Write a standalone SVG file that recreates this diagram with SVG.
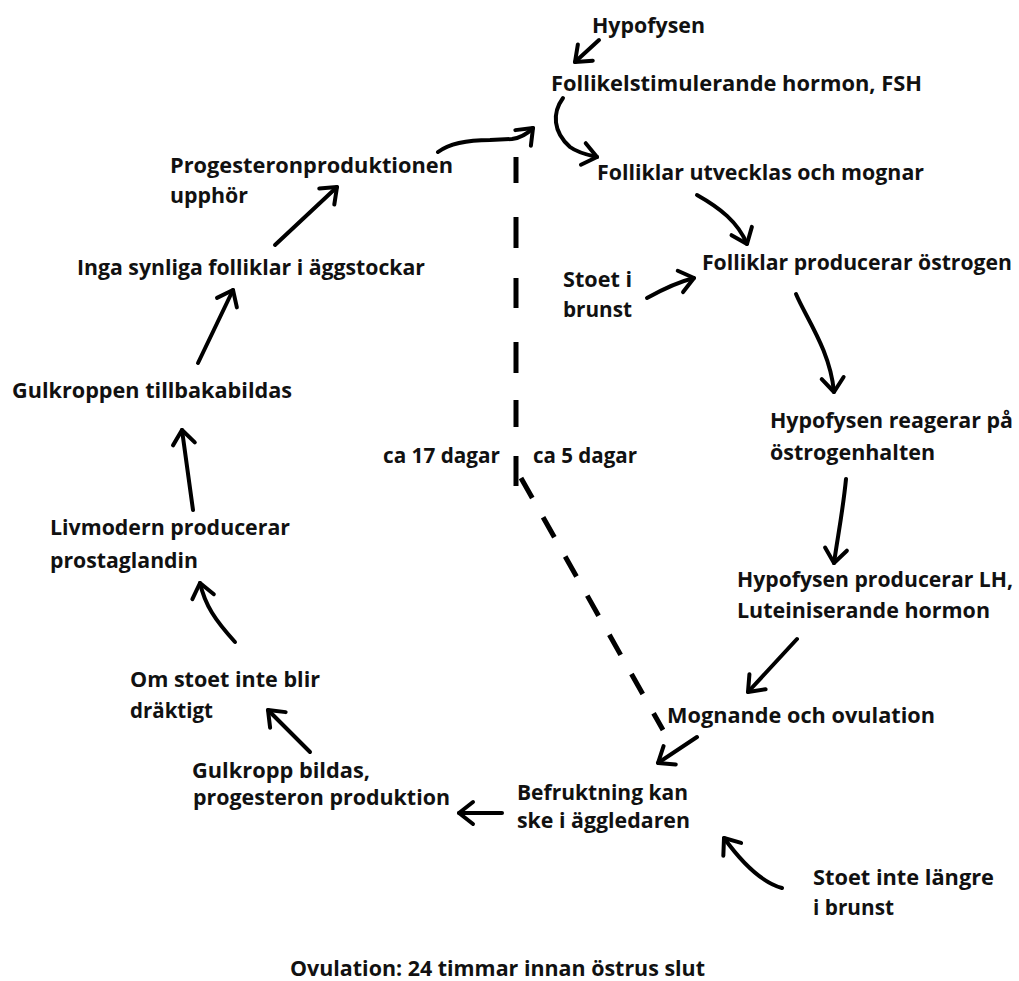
<svg xmlns="http://www.w3.org/2000/svg" width="1019" height="981" viewBox="0 0 1019 981">
<style>
text{font-family:"Open Sans","Liberation Sans",sans-serif;font-weight:700;font-size:21px;fill:#111}
.c{fill:none;stroke:#000;stroke-width:4;stroke-linecap:round;stroke-linejoin:round}
.d{fill:none;stroke:#000;stroke-width:5}
</style>
<defs>
<marker id="ah" markerUnits="userSpaceOnUse" markerWidth="40" markerHeight="40" viewBox="-20 -20 40 40" refX="0" refY="0" orient="auto" overflow="visible">
<path d="M-14,-11 L0,0 L-14,11" fill="none" stroke="#000" stroke-width="4" stroke-linecap="round" stroke-linejoin="round"/>
</marker>
</defs>
<rect width="1019" height="981" fill="#fff"/>
<g id="connectors">
<path class="c" marker-end="url(#ah)" d="M599,40 L575,62"/>
<path class="c" marker-end="url(#ah)" d="M563,98 C552,113 553,132 570,147 C578,153 588,155 597,157"/>
<path class="c" marker-end="url(#ah)" d="M438,152 C450,143 470,140 490,140 L512,139 C520,138 527,134 533,128"/>
<path class="c" marker-end="url(#ah)" d="M697,195 C720,208 738,222 747,244"/>
<path class="c" marker-end="url(#ah)" d="M647,298 C665,288 678,282 694,278"/>
<path class="c" marker-end="url(#ah)" d="M796,294 C806,318 830,350 834,392"/>
<path class="c" marker-end="url(#ah)" d="M846,479 C843,510 838,535 834,563"/>
<path class="c" marker-end="url(#ah)" d="M797,639 L748,692"/>
<path class="c" marker-end="url(#ah)" d="M697,737 L658,763"/>
<path class="c" marker-end="url(#ah)" d="M502,813 L459,813"/>
<path class="c" marker-end="url(#ah)" d="M782,888 C760,882 740,860 724,838"/>
<path class="c" marker-end="url(#ah)" d="M310,752 L268,710"/>
<path class="c" marker-end="url(#ah)" d="M235,642 C215,620 205,605 200,583"/>
<path class="c" marker-end="url(#ah)" d="M193,510 L182,430"/>
<path class="c" marker-end="url(#ah)" d="M198,363 L233,290"/>
<path class="c" marker-end="url(#ah)" d="M275,245 L337,187"/>
<path class="d" d="M516,157 V183 M516,217 V248 M516,278 V308 M516,342 V373 M516,400 V427 M516,456 V486"/>
<path class="d" stroke-width="4" stroke-dasharray="23 22" d="M521,478 L663,730"/>
</g>
<g id="hypofysen"><text x="592" y="33" textLength="113" lengthAdjust="spacingAndGlyphs">Hypofysen</text></g>
<g id="fsh"><text x="551" y="91" textLength="371" lengthAdjust="spacingAndGlyphs">Follikelstimulerande hormon, FSH</text></g>
<g id="folliklar-utvecklas"><text x="597" y="180" textLength="327" lengthAdjust="spacingAndGlyphs">Folliklar utvecklas och mognar</text></g>
<g id="folliklar-ostrogen"><text x="702" y="270" textLength="310" lengthAdjust="spacingAndGlyphs">Folliklar producerar östrogen</text></g>
<g id="stoet-brunst"><text x="563" y="287" textLength="69" lengthAdjust="spacingAndGlyphs">Stoet i</text><text x="563" y="317" textLength="69" lengthAdjust="spacingAndGlyphs">brunst</text></g>
<g id="hypofysen-reagerar"><text x="770" y="428" textLength="243" lengthAdjust="spacingAndGlyphs">Hypofysen reagerar på</text><text x="770" y="460" textLength="165" lengthAdjust="spacingAndGlyphs">östrogenhalten</text></g>
<g id="hypofysen-lh"><text x="737" y="587" textLength="276" lengthAdjust="spacingAndGlyphs">Hypofysen producerar LH,</text><text x="737" y="618" textLength="253" lengthAdjust="spacingAndGlyphs">Luteiniserande hormon</text></g>
<g id="mognande"><text x="667" y="723" textLength="268" lengthAdjust="spacingAndGlyphs">Mognande och ovulation</text></g>
<g id="befruktning"><text x="517" y="800" textLength="171" lengthAdjust="spacingAndGlyphs">Befruktning kan</text><text x="517" y="828" textLength="173" lengthAdjust="spacingAndGlyphs">ske i äggledaren</text></g>
<g id="stoet-inte-brunst"><text x="813" y="885" textLength="181" lengthAdjust="spacingAndGlyphs">Stoet inte längre</text><text x="813" y="915" textLength="81" lengthAdjust="spacingAndGlyphs">i brunst</text></g>
<g id="gulkropp-bildas"><text x="192" y="778" textLength="178" lengthAdjust="spacingAndGlyphs">Gulkropp bildas,</text><text x="193" y="805" textLength="257" lengthAdjust="spacingAndGlyphs">progesteron produktion</text></g>
<g id="om-stoet"><text x="130" y="687" textLength="190" lengthAdjust="spacingAndGlyphs">Om stoet inte blir</text><text x="130" y="718" textLength="83" lengthAdjust="spacingAndGlyphs">dräktigt</text></g>
<g id="livmodern"><text x="50" y="535" textLength="240" lengthAdjust="spacingAndGlyphs">Livmodern producerar</text><text x="50" y="568" textLength="148" lengthAdjust="spacingAndGlyphs">prostaglandin</text></g>
<g id="gulkroppen-tillbaka"><text x="12" y="398" textLength="280" lengthAdjust="spacingAndGlyphs">Gulkroppen tillbakabildas</text></g>
<g id="inga-folliklar"><text x="77" y="275" textLength="348" lengthAdjust="spacingAndGlyphs">Inga synliga folliklar i äggstockar</text></g>
<g id="progesteron-upphor"><text x="170" y="173" textLength="283" lengthAdjust="spacingAndGlyphs">Progesteronproduktionen</text><text x="170" y="203" textLength="78" lengthAdjust="spacingAndGlyphs">upphör</text></g>
<g id="ca17"><text x="383" y="463" textLength="117" lengthAdjust="spacingAndGlyphs">ca 17 dagar</text></g>
<g id="ca5"><text x="533" y="463" textLength="104" lengthAdjust="spacingAndGlyphs">ca 5 dagar</text></g>
<g id="ovulation-note"><text x="290" y="976" textLength="415" lengthAdjust="spacingAndGlyphs">Ovulation: 24 timmar innan östrus slut</text></g>
</svg>
